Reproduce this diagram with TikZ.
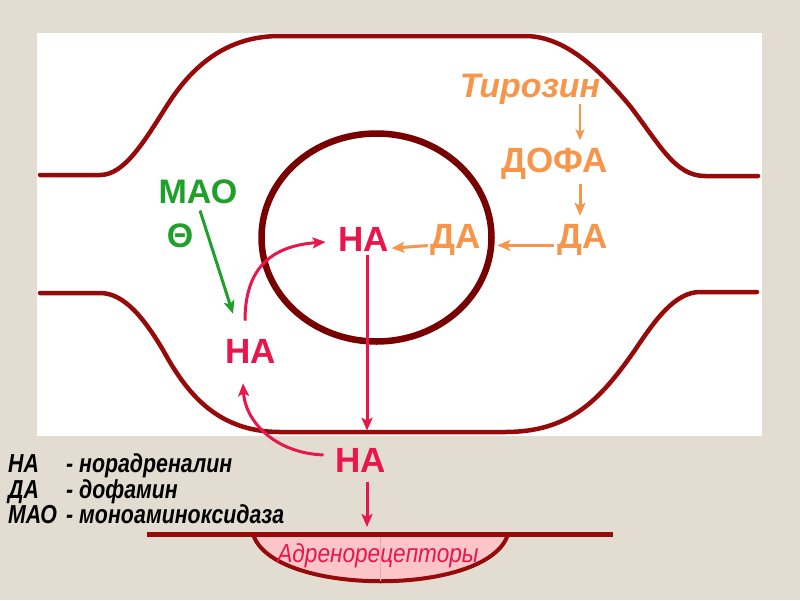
\documentclass[tikz,border=0pt]{standalone}
\usepackage{fontspec}
\setmainfont{Liberation Sans}
\usetikzlibrary{arrows.meta}
\definecolor{bgc}{HTML}{E3DDD1}
\definecolor{memc}{HTML}{960A0A}
\definecolor{nucc}{HTML}{780000}
\definecolor{orng}{HTML}{F7964A}
\definecolor{crim}{HTML}{E8164A}
\definecolor{grn}{HTML}{1FA02A}
\definecolor{pinkf}{HTML}{FCC6C9}
\definecolor{pinkline}{HTML}{E3A9AC}
\tikzset{
  big/.style={inner sep=0pt,anchor=base,font=\fontsize{35}{40}\selectfont\bfseries},
  leg/.style={inner sep=0pt,anchor=base west,font=\fontsize{26}{30}\selectfont\bfseries\itshape},
  membrane/.style={draw=memc,line width=4.5pt,line cap=round},
  arr/.style={line width=3pt,-{Stealth[length=13pt,width=11pt,inset=3pt]}},
  thinarr/.style={line width=2.4pt,-{Stealth[length=11pt,width=9pt,inset=2.5pt]}},
}
\begin{document}
\begin{tikzpicture}[x=1pt,y=-1pt]
\useasboundingbox (0,0) rectangle (800,600);
\fill[bgc] (0,0) rectangle (800,600);
\fill[white] (37,33) rectangle (762,436);
% cell membranes
\draw[membrane] (40,175) -- (100,175) .. controls (125,175) and (145,140) .. (168,104)
  .. controls (195,62) and (230,36) .. (280,36) -- (525,36)
  .. controls (565,36) and (600,70) .. (630,106)
  .. controls (660,145) and (675,176) .. (705,176) -- (758,176);
\draw[membrane] (40,293) -- (100,293) .. controls (125,293) and (145,320) .. (163,350)
  .. controls (185,390) and (215,432) .. (280,432) -- (505,432)
  .. controls (570,432) and (600,400) .. (635,350)
  .. controls (655,320) and (675,292) .. (700,292) -- (757,292);
% vesicle
\draw[draw=nucc,line width=6.5pt] (376.5,237.5) ellipse [x radius=115pt,y radius=104pt];
% receptor
\coordinate (recL) at (147,534);
\coordinate (recR) at (613,534);
\filldraw[fill=pinkf,draw=memc,line width=4pt] (253,534) .. controls (272,597) and (490,597) .. (508,534);
\draw[pinkline,line width=0.6pt] (380,537) -- (380,581);
\draw[memc,line width=5pt] (recL) -- (recR);
\node[inner sep=0pt,anchor=base,text=crim,font=\fontsize{26}{30}\selectfont\itshape] (rec) at (378,562) {\scalebox{0.87}[1]{Адренорецепторы}};
% labels
\node[big,text=orng,font=\fontsize{34}{38}\selectfont\bfseries\itshape] (tyr) at (530,97) {Тирозин};
\node[big,text=orng] (dofa) at (555,172) {ДОФА};
\node[big,text=orng] (da1) at (583,248) {ДА};
\node[big,text=orng] (da2) at (456,248) {ДА};
\node[big,text=crim] (na1) at (364,251) {НА};
\node[big,text=crim] (na2) at (251,363) {НА};
\node[big,text=crim] (na3) at (361,472) {НА};
\node[big,text=grn,font=\fontsize{34}{38}\selectfont\bfseries] (mao) at (198,203) {МАО};
\node[inner sep=0pt,text=grn,font=\fontsize{34}{38}\selectfont\bfseries] (minus) at (180,236) {Θ};
% legend
\node[leg] (l1a) at (8,472) {\scalebox{0.82}[1]{НА}};
\node[leg] (l1b) at (66,472) {\scalebox{0.82}[1]{- норадреналин}};
\node[leg] (l2a) at (8,498) {\scalebox{0.82}[1]{ДА}};
\node[leg] (l2b) at (66,498) {\scalebox{0.82}[1]{- дофамин}};
\node[leg] (l3a) at (8,523) {\scalebox{0.82}[1]{МАО}};
\node[leg] (l3b) at (66,523) {\scalebox{0.82}[1]{- моноаминоксидаза}};
% connectors
\coordinate (ax) at (580,0);
\coordinate (vx) at (367,0);
\draw[thinarr,orng,shorten >=7pt] (tyr.south -| ax) -- (dofa.north -| ax);
\draw[arr,orng,shorten <=5pt,shorten >=8pt] (dofa.south -| ax) -- (da1.north -| ax);
\draw[arr,orng,shorten <=4pt,shorten >=16pt] (da1.mid west) -- (da2.mid east);
\draw[arr,orng,shorten <=3pt,shorten >=2pt] (da2.mid west) -- (na1.mid east);
\draw[arr,crim,shorten <=4pt,shorten >=17pt] (na1.south -| vx) -- (na3.north -| vx);
\draw[arr,crim,shorten <=10pt,shorten >=7pt] (na3.south -| vx) -- (recL -| vx);
\draw[arr,crim] ([shift={(-6,-18)}]na2.north) .. controls +(0,-52) and +(-55,4) .. ([shift={(-13,3)}]na1.west);
\draw[arr,crim] ([shift={(-12,-5)}]na3.west) .. controls +(-50,-2) and +(2,37) .. ([shift={(-8,20)}]na2.south);
\draw[arr,grn] ([shift={(2,7)}]mao.south) -- ([shift={(-18,-25)}]na2.north);
\end{tikzpicture}
\end{document}
